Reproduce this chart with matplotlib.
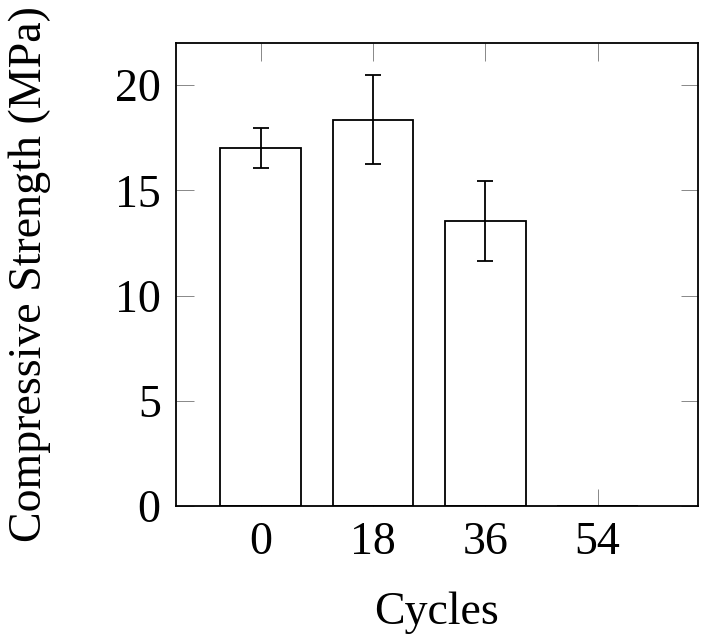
import numpy as np
import matplotlib
matplotlib.use('Agg')
import matplotlib.pyplot as plt

# data
cycles = ['0', '18', '36', '54']
strength = [17.0, 18.35, 13.55, 0.0]
err = [0.95, 2.12, 1.91, 0.0]

plt.rcParams['font.family'] = ['Liberation Serif', 'DejaVu Serif']
plt.rcParams['font.size'] = 33

fig = plt.figure(figsize=(7.09, 6.36), dpi=100)
ax = fig.add_axes([0.2482, 0.2044, 0.984 - 0.2482, 0.9324 - 0.2044])

x = np.arange(len(cycles))
ax.bar(x, strength, width=0.717, color='white', edgecolor='black', linewidth=1.3, zorder=2)
ax.errorbar(x[:3], strength[:3], yerr=err[:3], fmt='none', ecolor='black',
            elinewidth=1.3, capsize=6, capthick=1.3, zorder=3)

ax.set_xlim(-0.754, 3.89)
ax.set_ylim(0, 22)
ax.set_xticks(x)
ax.set_xticklabels(cycles)
ax.set_yticks([0, 5, 10, 15, 20])

ax.tick_params(direction='in', length=12.6, width=0.7, color='#888888',
               top=True, right=True, pad=11)
for s in ax.spines.values():
    s.set_linewidth(1.3)

ax.set_xlabel('Cycles')
ax.set_ylabel('Compressive Strength (MPa)')
ax.xaxis.set_label_coords(0.5, -0.185)
ax.yaxis.set_label_coords(-0.24, 0.5)

plt.savefig('out.png', dpi=100)
